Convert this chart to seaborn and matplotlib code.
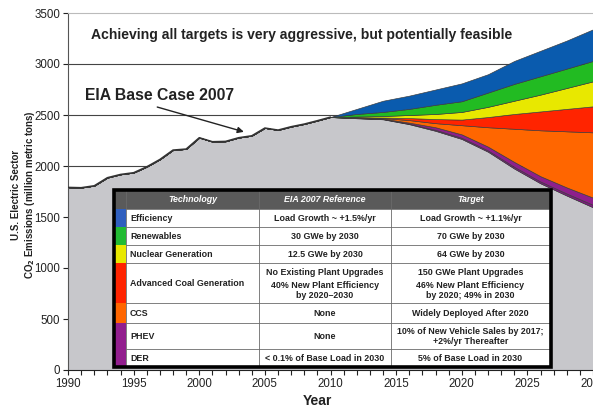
import numpy as np
import matplotlib
matplotlib.use("Agg")
import matplotlib.pyplot as plt
from matplotlib.patches import Rectangle
import seaborn as sns

# ---------------- data ----------------
hist_years = list(range(1990, 2010))
hist_emissions = [1791, 1788, 1807, 1886, 1918, 1935, 1993, 2065, 2157, 2167,
                  2278, 2239, 2242, 2278, 2297, 2373, 2353, 2386, 2412, 2445]

proj_years = [2010, 2012, 2014, 2016, 2018, 2020, 2022, 2024, 2026, 2028, 2030]
proj_remaining = [2480, 2468, 2458, 2410, 2345, 2265, 2140, 1975, 1830, 1710, 1595]
der        = [0, 2, 3, 5, 10, 12, 13, 17, 18, 20, 25]
phev       = [0, 2, 4, 10, 25, 33, 37, 48, 52, 60, 70]
ccs        = [0, 3, 5, 25, 40, 90, 190, 325, 450, 550, 640]
adv_coal   = [0, 3, 5, 20, 40, 55, 100, 145, 185, 220, 255]
nuclear    = [0, 7, 15, 30, 50, 75, 100, 130, 165, 205, 245]
renewables = [0, 25, 40, 60, 90, 105, 140, 165, 180, 190, 200]
efficiency = [0, 50, 110, 130, 150, 175, 180, 225, 250, 275, 310]

technologies = ["Efficiency", "Renewables", "Nuclear Generation",
                "Advanced Coal Generation", "CCS", "PHEV", "DER"]
eia_reference = ["Load Growth ~ +1.5%/yr", "30 GWe by 2030", "12.5 GWe by 2030",
                 ["No Existing Plant Upgrades", "40% New Plant Efficiency\nby 2020\u20132030"],
                 "None", "None", "< 0.1% of Base Load in 2030"]
targets = ["Load Growth ~ +1.1%/yr", "70 GWe by 2030", "64 GWe by 2030",
           ["150 GWe Plant Upgrades", "46% New Plant Efficiency\nby 2020; 49% in 2030"],
           "Widely Deployed After 2020",
           "10% of New Vehicle Sales by 2017;\n+2%/yr Thereafter",
           "5% of Base Load in 2030"]
header = ["Technology", "EIA 2007 Reference", "Target"]

# ---------------- style ----------------
sns.set_theme(style="white")
plt.rcParams['font.family'] = ['Liberation Sans', 'DejaVu Sans']

colors = {"gray": "#C7C7CB", "der": "#7E1A80", "phev": "#8E1F8C", "ccs": "#FF6600",
          "coal": "#FF2400", "nuc": "#E8E800", "ren": "#22BB22", "eff": "#0A5BAE"}
strip_colors = ["#2F5FBF", "#22BB33", "#E8E800", "#FF2400", "#FF6600", "#921E8E", "#921E8E"]

W, H = 593, 412
fig = plt.figure(figsize=(W / 100, H / 100), dpi=100)
ax = fig.add_axes([68 / W, 1 - 370 / H, (593 - 68) / W, (370 - 13) / H])

years = np.array(hist_years + proj_years, dtype=float)
nh = len(hist_years)
zeros = [0] * nh
remaining = np.array(hist_emissions + proj_remaining, dtype=float)
layers = [np.array(zeros + l, dtype=float) for l in
          (der, phev, ccs, adv_coal, nuclear, renewables, efficiency)]

for yv in range(500, 3500, 500):
    ax.axhline(yv, color="#444444", lw=0.8, zorder=0)

ax.stackplot(years, remaining, colors=[colors["gray"]], linewidth=0, zorder=1)
ax.stackplot(years, remaining, *layers,
             colors=[(0, 0, 0, 0), colors["der"], colors["phev"], colors["ccs"],
                     colors["coal"], colors["nuc"], colors["ren"], colors["eff"]],
             edgecolor="#3a3a3a", linewidth=0.45, zorder=2)
# historical outline
sns.lineplot(x=years[:nh + 1], y=remaining[:nh + 1], color="#333333", lw=1.0,
             ax=ax, zorder=3)

ax.set_xlim(1990, 2030)
ax.set_ylim(0, 3500)
ax.set_xticks(range(1990, 2031, 5))
ax.set_xticks(range(1990, 2031, 1), minor=True)
ax.set_yticks(range(0, 3501, 500))
ax.tick_params(axis="both", which="both", direction="out", length=3.5, width=0.8,
               colors="#222222", labelsize=8.3, pad=2)
ax.tick_params(axis="x", which="both", bottom=True)
ax.tick_params(axis="y", left=True)
ax.spines["right"].set_visible(False)
ax.spines["top"].set_color("#BBBBBB")
ax.spines["top"].set_linewidth(0.8)
ax.spines["left"].set_color("#555555")
ax.spines["left"].set_linewidth(0.8)
ax.spines["bottom"].set_color("#222222")
ax.spines["bottom"].set_linewidth(0.8)

ax.set_xlabel("Year", fontsize=10, fontweight="bold", color="#222222")
ax.xaxis.set_label_coords((317 - 68) / (593 - 68), -0.068)
ax.set_ylabel("")
fig.text(24 / W, 1 - 195 / H, "U.S. Electric Sector\nCO$_\\mathbf{2}$ Emissions (million metric tons)",
         rotation=90, ha="center", va="center", fontsize=7, fontweight="bold",
         color="#222222", linespacing=1.15)

fig.text(302 / W, 1 - 35 / H,
         "Achieving all targets is very aggressive, but potentially feasible",
         ha="center", va="center", fontsize=10.1, fontweight="bold", color="#222222")

ax.text(1991.3, 2690, "EIA Base Case 2007", fontsize=11.3, fontweight="bold",
        color="#222222", ha="left", va="center", zorder=5)
ax.annotate("", xy=(2003.4, 2335), xytext=(1996.8, 2578),
            arrowprops=dict(arrowstyle="-|>", color="#222222", lw=1.0,
                            mutation_scale=9, shrinkA=0, shrinkB=0),
            zorder=5)

# ---------------- table ----------------
tx0, tx1, ty0, ty1 = 112, 553, 188, 370
tax = fig.add_axes([tx0 / W, 1 - ty1 / H, (tx1 - tx0) / W, (ty1 - ty0) / H])
tax.set_xlim(tx0, tx1)
tax.set_ylim(ty1, ty0)
tax.axis("off")

col_edges = [115, 126, 259, 391, 550]
row_edges = [190, 209, 227, 245, 263, 303, 323, 349, 367]

tax.add_patch(Rectangle((114, 190), 437, 177.5, facecolor="white", edgecolor="none", zorder=1))
tax.add_patch(Rectangle((114, 190), 437, 19, facecolor="#5A5A5A", edgecolor="none", zorder=2))
for i, c in enumerate(strip_colors):
    tax.add_patch(Rectangle((115, row_edges[i + 1]), 11, row_edges[i + 2] - row_edges[i + 1],
                            facecolor=c, edgecolor="none", zorder=2))
for yv in row_edges[1:-1]:
    tax.plot([126, 550], [yv, yv], color="#6a6a6a", lw=0.6, zorder=3)
for xv in col_edges[1:-1]:
    tax.plot([xv, xv], [190, 367], color="#6a6a6a", lw=0.6, zorder=3)
tax.add_patch(Rectangle((114, 190), 437, 177.5, facecolor="none", edgecolor="black",
                        lw=2.6, zorder=4))

fs = 6.4
hy = (row_edges[0] + row_edges[1]) / 2
for j, h in enumerate(header):
    cx = (col_edges[j + 1] + col_edges[j + 2]) / 2
    tax.text(cx, hy, h, ha="center", va="center", fontsize=fs, fontweight="bold",
             style="italic", color="white", zorder=5)


def put(cx, r, val, ha):
    top, bot = row_edges[r + 1], row_edges[r + 2]
    if isinstance(val, list):
        tax.text(cx, top + 9.5, val[0], ha=ha, va="center", fontsize=fs,
                 fontweight="bold", color="#222222", zorder=5)
        tax.text(cx, top + 27.5, val[1], ha=ha, va="center", fontsize=fs,
                 fontweight="bold", color="#222222", zorder=5, linespacing=1.05)
    else:
        tax.text(cx, (top + bot) / 2 + 0.5, val, ha=ha, va="center", fontsize=fs,
                 fontweight="bold", color="#222222", zorder=5, linespacing=1.05)


for i in range(len(technologies)):
    put(130, i, technologies[i], "left")
    put((col_edges[2] + col_edges[3]) / 2, i, eia_reference[i], "center")
    put((col_edges[3] + col_edges[4]) / 2, i, targets[i], "center")

fig.savefig("out.png", dpi=100)
